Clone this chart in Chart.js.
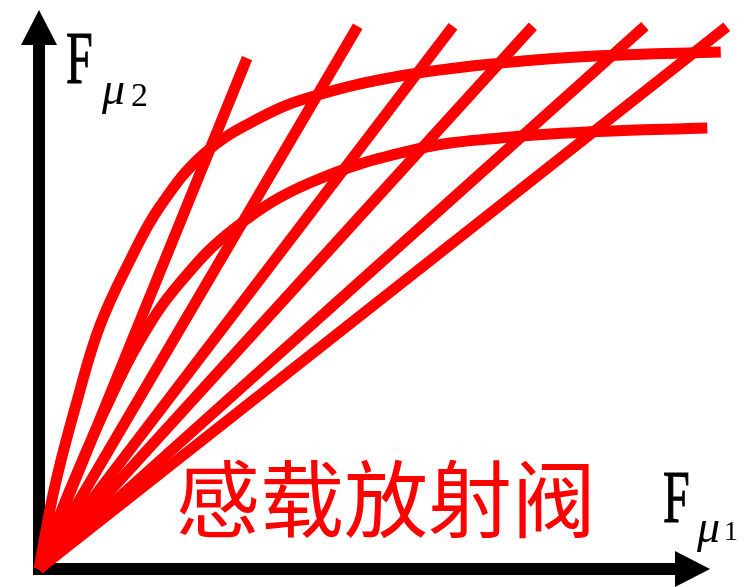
<!DOCTYPE html>
<html lang="zh">
<head>
    <meta charset="UTF-8">
    <title>感载放射阀</title>
    <script src="https://cdn.jsdelivr.net/npm/chart.js"></script>
    <style>
        html, body { margin: 0; padding: 0; background: #fff; }
        #myChart { display: block; }
    </style>
</head>
<body>
    <canvas id="myChart" width="754" height="587"></canvas>

    <script>
        // straight rays from the origin: top end of each ray
        const rayTopX = [31.0, 47.5, 61.7, 73.6, 90.3, 102.5];
        const rayTopY = [91.4, 97.1, 97.1, 97.1, 97.1, 97.0];

        // upper curve
        const upperX = [0, 2.4, 5.7, 9.1, 13.6, 18.0, 24.7, 32.9, 40.4, 53.8, 68.7, 83.6, 101.6];
        const upperY = [0, 15.0, 30.2, 43.6, 55.3, 64.8, 74.4, 80.7, 84.4, 88.2, 90.5, 91.8, 92.5];

        // lower curve
        const lowerX = [0, 4.6, 9.8, 15.1, 21.0, 29.2, 40.4, 56.3, 68.7, 82.1, 99.6];
        const lowerY = [0, 14.1, 28.4, 41.0, 51.2, 61.0, 69.1, 75.1, 77.1, 78.2, 78.9];

        const RED = '#ff0000';

        const toPoints = (xs, ys) => xs.map((x, i) => ({x: x, y: ys[i]}));

        const datasets = [];
        rayTopX.forEach((x, i) => {
            datasets.push({
                data: [{x: 0, y: 0}, {x: x, y: rayTopY[i]}],
                borderColor: RED,
                borderWidth: 11,
                pointRadius: 0,
                clip: false
            });
        });
        [[upperX, upperY], [lowerX, lowerY]].forEach(([xs, ys]) => {
            datasets.push({
                data: toPoints(xs, ys),
                borderColor: RED,
                borderWidth: 11,
                pointRadius: 0,
                tension: 0.4,
                borderJoinStyle: 'round',
                clip: false
            });
        });

        // axes with arrow heads, then the labels
        const axesPlugin = {
            id: 'axesPlugin',
            beforeDatasetsDraw(chart) {
                const {ctx, scales} = chart;
                const x0 = scales.x.getPixelForValue(0);
                const y0 = scales.y.getPixelForValue(0);
                const xEnd = scales.x.getPixelForValue(100);
                const yEnd = scales.y.getPixelForValue(100);

                ctx.save();
                ctx.fillStyle = '#000';
                // y axis
                ctx.fillRect(x0 - 6, yEnd + 34, 12, y0 - yEnd - 34 + 6);
                ctx.beginPath();
                ctx.moveTo(x0, yEnd);
                ctx.lineTo(x0 - 18, yEnd + 35);
                ctx.lineTo(x0 + 18, yEnd + 35);
                ctx.closePath();
                ctx.fill();
                // x axis
                ctx.fillRect(x0, y0 - 6, xEnd - x0 - 34, 12);
                ctx.beginPath();
                ctx.moveTo(xEnd, y0);
                ctx.lineTo(xEnd - 35, y0 - 18);
                ctx.lineTo(xEnd - 35, y0 + 18);
                ctx.closePath();
                ctx.fill();
                ctx.restore();
            },
            afterDatasetsDraw(chart) {
                const {ctx} = chart;
                const drawLabel = (x, baseline, subX, subBase, digit, digitX, digitBase, digitSize) => {
                    ctx.save();
                    ctx.fillStyle = '#000';
                    ctx.strokeStyle = '#000';
                    ctx.lineWidth = 1.2;
                    ctx.textBaseline = 'alphabetic';
                    ctx.textAlign = 'left';
                    ctx.translate(x, baseline);
                    ctx.scale(0.64, 1);
                    ctx.font = '75px "Liberation Serif"';
                    ctx.fillText('F', 0, 0);
                    ctx.strokeText('F', 0, 0);
                    ctx.restore();

                    ctx.save();
                    ctx.fillStyle = '#000';
                    ctx.textBaseline = 'alphabetic';
                    ctx.textAlign = 'left';
                    ctx.font = 'italic 46px "Liberation Serif"';
                    ctx.fillText('\u03bc', subX, subBase);
                    ctx.font = digitSize + 'px "Liberation Serif"';
                    ctx.fillText(digit, digitX, digitBase);
                    ctx.restore();
                };
                drawLabel(66, 83, 102, 104, '2', 131, 106, 34);
                drawLabel(663, 522, 697, 542, '1', 724, 540, 28);

                ctx.save();
                ctx.fillStyle = RED;
                ctx.font = '84px "Noto Sans CJK SC"';
                ctx.textBaseline = 'middle';
                ctx.textAlign = 'left';
                ctx.fillText('感载放射阀', 176, 499);
                ctx.restore();
            }
        };

        const config = {
            type: 'line',
            data: {datasets: datasets},
            options: {
                responsive: false,
                animation: false,
                layout: {padding: {left: 39, right: 44, top: 10, bottom: 18}},
                scales: {
                    x: {type: 'linear', min: 0, max: 100, display: false},
                    y: {type: 'linear', min: 0, max: 100, display: false}
                },
                plugins: {
                    legend: {display: false},
                    tooltip: {enabled: false}
                }
            },
            plugins: [axesPlugin]
        };

        new Chart(document.getElementById('myChart').getContext('2d'), config);
    </script>
</body>
</html>
